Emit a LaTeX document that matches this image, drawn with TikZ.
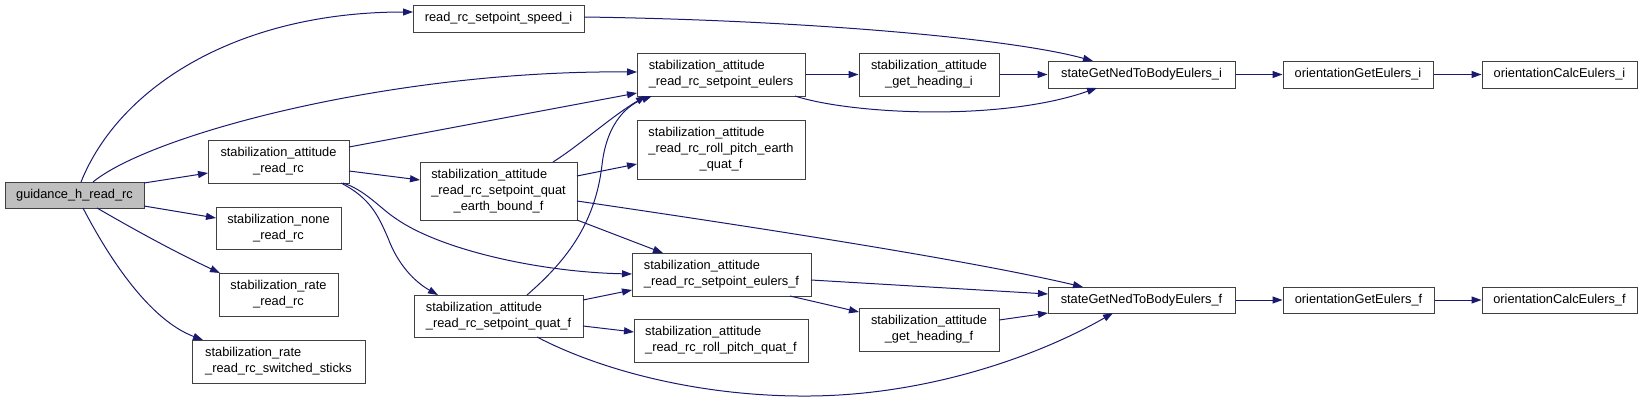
\documentclass[tikz,border=0pt]{standalone}
\usepackage{fontspec}
\setmainfont{Liberation Sans}
\usetikzlibrary{arrows.meta,calc}
\definecolor{edgeblue}{HTML}{191970}
\definecolor{boxline}{HTML}{404040}
\definecolor{rootfill}{HTML}{BFBFBF}
\newcommand\onel[1]{\begin{tabular}{@{}c@{}}#1\end{tabular}}
\newcommand\twol[2]{\begin{tabular}{@{}l@{}}#1\\\multicolumn{1}{@{}c@{}}{#2}\end{tabular}}
\newcommand\threel[3]{\begin{tabular}{@{}l@{}}#1\\#2\\\multicolumn{1}{@{}c@{}}{#3}\end{tabular}}
\begin{document}
\begin{tikzpicture}[x=1pt,y=-1pt,
  fn/.style={draw=boxline, line width=1pt, fill=white, rectangle, inner sep=0pt,
    font=\fontsize{12.8}{16}\selectfont},
  call/.style={draw=edgeblue, line width=1pt, -{Triangle[length=10pt,width=7pt]}}]
\useasboundingbox (0,0) rectangle (1643,402);

\node[fn,fill=rootfill,minimum width=139pt,minimum height=26pt] (guid) at (74.5,195) {\onel{guidance\_h\_read\_rc}};
\node[fn,minimum width=141pt,minimum height=43pt] (sarc) at (278.5,161.5) {\twol{stabilization\_attitude}{\_read\_rc}};
\node[fn,minimum width=125pt,minimum height=42pt] (snone) at (278.5,228) {\twol{stabilization\_none}{\_read\_rc}};
\node[fn,minimum width=119pt,minimum height=43pt] (srate) at (278.5,294.5) {\twol{stabilization\_rate}{\_read\_rc}};
\node[fn,minimum width=173pt,minimum height=43pt] (sticks) at (278.5,361.5) {\twol{stabilization\_rate}{\_read\_rc\_switched\_sticks}};
\node[fn,minimum width=171pt,minimum height=27pt] (speed) at (498.5,18.5) {\onel{read\_rc\_setpoint\_speed\_i}};
\node[fn,minimum width=157pt,minimum height=58pt] (eb) at (498.5,191) {\threel{stabilization\_attitude}{\_read\_rc\_setpoint\_quat}{\_earth\_bound\_f}};
\node[fn,minimum width=169pt,minimum height=42pt] (qf) at (498.5,316) {\twol{stabilization\_attitude}{\_read\_rc\_setpoint\_quat\_f}};
\node[fn,minimum width=168pt,minimum height=43pt] (eul) at (721,74.5) {\twol{stabilization\_attitude}{\_read\_rc\_setpoint\_eulers}};
\node[fn,minimum width=168pt,minimum height=59pt] (rpe) at (721,149.5) {\threel{stabilization\_attitude}{\_read\_rc\_roll\_pitch\_earth}{\_quat\_f}};
\node[fn,minimum width=179pt,minimum height=43pt] (eulf) at (721.5,274.5) {\twol{stabilization\_attitude}{\_read\_rc\_setpoint\_eulers\_f}};
\node[fn,minimum width=174pt,minimum height=43pt] (rpq) at (721,340.5) {\twol{stabilization\_attitude}{\_read\_rc\_roll\_pitch\_quat\_f}};
\node[fn,minimum width=140pt,minimum height=43pt] (ghi) at (929,74.5) {\twol{stabilization\_attitude}{\_get\_heading\_i}};
\node[fn,minimum width=140pt,minimum height=43pt] (ghf) at (929,329.5) {\twol{stabilization\_attitude}{\_get\_heading\_f}};
\node[fn,minimum width=187pt,minimum height=27pt] (sni) at (1141.5,74.5) {\onel{stateGetNedToBodyEulers\_i}};
\node[fn,minimum width=187pt,minimum height=26pt] (snf) at (1141.5,300) {\onel{stateGetNedToBodyEulers\_f}};
\node[fn,minimum width=150pt,minimum height=27pt] (ogi) at (1358,74.5) {\onel{orientationGetEulers\_i}};
\node[fn,minimum width=151pt,minimum height=26pt] (ogf) at (1358.5,300) {\onel{orientationGetEulers\_f}};
\node[fn,minimum width=155pt,minimum height=27pt] (oci) at (1559.5,74.5) {\onel{orientationCalcEulers\_i}};
\node[fn,minimum width=155pt,minimum height=26pt] (ocf) at (1559.5,300) {\onel{orientationCalcEulers\_f}};

% from guidance_h_read_rc
\draw[call] ($(guid)+(6.5,-13)$) .. controls (120,85) and (240,12) .. ($(speed)+(-85.5,-6.5)$);
\draw[call] ($(guid)+(18.5,-13)$) .. controls (150,135) and (390,70) .. ($(eul)+(-84,-2.5)$);
\draw[call] ($(guid)+(69.5,-12)$) -- ($(sarc)+(-70.5,11.5)$);
\draw[call] ($(guid)+(69.5,11)$) -- ($(snone)+(-62.5,-10)$);
\draw[call] ($(guid)+(22.5,13)$) .. controls (135,230) and (175,252) .. ($(srate)+(-58.5,-21.5)$);
\draw[call] ($(guid)+(8.5,13)$) .. controls (110,260) and (150,320) .. ($(sticks)+(-75.5,-21.5)$);

% from stabilization_attitude_read_rc
\draw[call] ($(sarc)+(70.5,-14.5)$) -- ($(eul)+(-84,18.5)$);
\draw[call] ($(sarc)+(70.5,9.5)$) -- ($(eb)+(-78.5,-11)$);
\draw[call] ($(sarc)+(64.5,21.5)$) .. controls (365,190) and (380,208) .. (395,218)
  .. controls (440,250) and (540,272) .. ($(eulf)+(-89.5,-0.5)$);
\draw[call] ($(sarc)+(62.5,21.5)$) .. controls (370,198) and (378,215) .. (388,238)
  .. controls (398,265) and (415,282) .. ($(qf)+(-60.5,-21)$);

% upper chain
\draw[call] ($(speed)+(85.5,-1.5)$) .. controls (800,20) and (1010,38) .. ($(sni)+(-48.5,-13.5)$);
\draw[call] (eul.east) -- (ghi.west);
\draw[call] ($(eul)+(74,21.5)$) .. controls (850,114) and (1000,122) .. ($(sni)+(-44.5,13.5)$);
\draw[call] (ghi.east) -- (sni.west);
\draw[call] (sni.east) -- (ogi.west);
\draw[call] (ogi.east) -- (oci.west);

% from earth_bound_f
\draw[call] ($(eb)+(54.5,-29)$) .. controls (580,145) and (612,116) .. ($(eul)+(-75,21.5)$);
\draw[call] ($(eb)+(78.5,-15)$) -- ($(rpe)+(-84,14.5)$);
\draw[call] ($(eb)+(78.5,10)$) .. controls (720,222) and (960,258) .. ($(snf)+(-58.5,-13)$);
\draw[call] ($(eb)+(78.5,29)$) -- ($(eulf)+(-58.5,-21.5)$);

% from setpoint_quat_f
\draw[call] ($(qf)+(28.5,-21)$) .. controls (565,262) and (595,225) .. (602,165)
  .. controls (607,120) and (630,104) .. ($(eul)+(-69,21.5)$);
\draw[call] ($(qf)+(84.5,-16)$) -- ($(eulf)+(-89.5,15.5)$);
\draw[call] ($(qf)+(84.5,10)$) -- ($(rpq)+(-87,-8.5)$);
\draw[call] ($(qf)+(38.5,21)$) .. controls (600,370) and (700,397) .. (810,396)
  .. controls (930,395) and (1040,355) .. ($(snf)+(-28.5,13)$);

% lower chain
\draw[call] ($(eulf)+(89.5,5.5)$) -- ($(snf)+(-93.5,-6)$);
\draw[call] ($(eulf)+(68.5,21.5)$) -- ($(ghf)+(-70,-17.5)$);
\draw[call] ($(ghf)+(70,-9.5)$) -- ($(snf)+(-93.5,13)$);
\draw[call] (snf.east) -- (ogf.west);
\draw[call] (ogf.east) -- (ocf.west);
\end{tikzpicture}
\end{document}
